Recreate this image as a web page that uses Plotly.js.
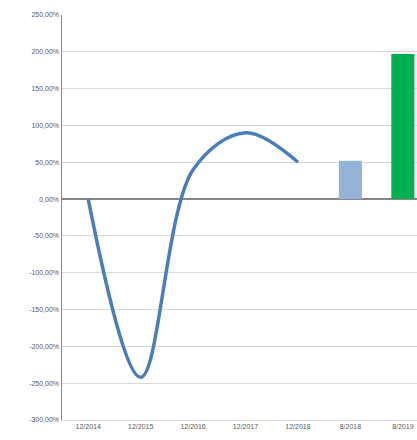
<!DOCTYPE html>
<html>
<head>
<meta charset="utf-8">
<script src="https://cdn.plot.ly/plotly-3.0.1.min.js"></script>
<style>html,body{margin:0;padding:0;background:#fff;}#chart{width:417px;height:440px;}</style>
</head>
<body>
<div id="chart"></div>
<script>
const categories = ["12/2014","12/2015","12/2016","12/2017","12/2018","8/2018","8/2019"];
const lineCategories = ["12/2014","12/2015","12/2016","12/2017","12/2018"];
const lineValues = [0, -242, 40, 90, 50];
const barCategories = ["8/2018","8/2019"];
const barValues = [52, 197];
const barColors = ["#95b3d7", "#00b050"];
const yTickValues = [250,200,150,100,50,0,-50,-100,-150,-200,-250,-300];
const yTickLabels = yTickValues.map(v => v.toFixed(2).replace('.', ',') + '%');

const traces = [
  {
    type: 'scatter', mode: 'lines',
    x: lineCategories, y: lineValues,
    line: {shape: 'spline', smoothing: 1, color: '#4a7ebb', width: 3.5},
    hoverinfo: 'skip'
  },
  {
    type: 'bar',
    x: barCategories, y: barValues,
    width: 0.44,
    marker: {color: barColors},
    hoverinfo: 'skip'
  }
];

const layout = {
  width: 417, height: 440,
  margin: {l: 62, r: 0, t: 15, b: 20},
  paper_bgcolor: '#fff', plot_bgcolor: '#fff',
  showlegend: false,
  font: {family: 'Liberation Sans, Arial, sans-serif', size: 7, color: '#595959'},
  xaxis: {
    type: 'category',
    categoryorder: 'array', categoryarray: categories,
    range: [-0.5, 6.27],
    showgrid: false,
    showline: true, linecolor: '#d9d9d9', linewidth: 1,
    ticks: '', tickfont: {size: 7, color: '#595959'},
    fixedrange: true
  },
  yaxis: {
    range: [-300, 250],
    tickvals: yTickValues, ticktext: yTickLabels,
    showgrid: true, gridcolor: '#d9d9d9', gridwidth: 1,
    zeroline: true, zerolinecolor: '#868686', zerolinewidth: 1.5,
    showline: true, linecolor: '#868686', linewidth: 1.5,
    ticks: '', ticklen: 0,
    tickfont: {size: 7, color: '#595959'},
    fixedrange: true
  }
};

Plotly.newPlot('chart', traces, layout, {displayModeBar: false, staticPlot: true});
</script>
</body>
</html>
